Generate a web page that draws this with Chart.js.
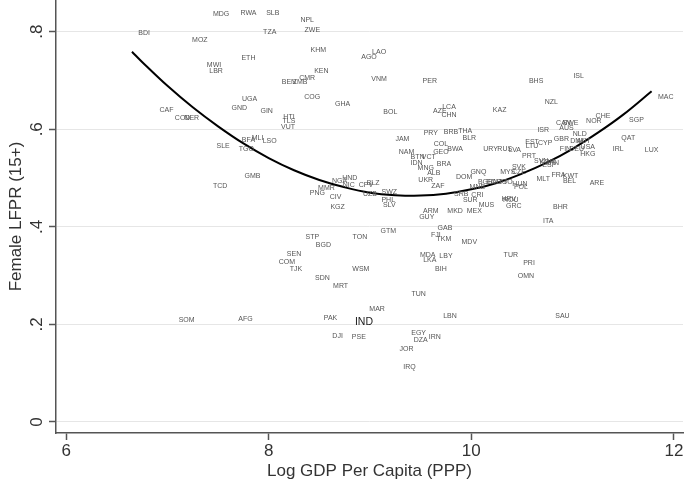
<!DOCTYPE html>
<html>
<head>
<meta charset="utf-8">
<script src="https://cdn.jsdelivr.net/npm/chart.js@4.4.1/dist/chart.umd.min.js"></script>
<style>
  html, body { margin: 0; padding: 0; background: #fff; }
  #wrap { width: 685px; height: 488px; }
</style>
</head>
<body>
<div id="wrap"><canvas id="c" width="685" height="488"></canvas></div>
<script>
// ---- data ----
const countries = ["MDG","RWA","SLB","BDI","TZA","MOZ","ETH","MWI","LBR","UGA","GND","GIN","CAF","COD","NER","SLE","TGO","BFA","MLI","LSO","TCD","GMB","NPL","ZWE","KHM","LAO","AGO","KEN","CMR","BEN","ZMB","VNM","PER","COG","GHA","BOL","HTI","TLS","VUT","JAM","BHS","NZL","LCA","AZE","CHN","KAZ","PRY","BRB","THA","BLR","ISR","CAN","SWE","AUS","GBR","EST","LTU","CYP","COL","ISL","MAC","CHE","NOR","SGP","NLD","QAT","DNK","AUT","FIN","DEU","USA","HKG","IRL","LUX","FRA","KWT","BEL","MLT","ARE","BHR","ITA","NAM","BTN","VCT","IDN","MNG","ALB","UKR","ZAF","BRA","GEO","BWA","NGA","HND","NIC","MMR","PNG","CIV","KGZ","BLZ","CPV","UZB","SWZ","PHL","SLV","GTM","ARM","GUY","STP","TON","BGD","SEN","COM","TJK","WSM","SDN","MRT","URY","RUS","LVA","PRT","SVN","SVK","KOR","ESP","JPN","MYS","CZE","DOM","GNQ","BGR","ECU","ARG","TTO","MNE","HUN","POL","SRB","CRI","SUR","MUS","MEX","MKD","HRV","ROU","GRC","GAB","FJI","TKM","MDV","MDA","LKA","LBY","BIH","TUR","PRI","OMN","SOM","AFG","TUN","MAR","PAK","IND","LBN","DJI","PSE","EGY","DZA","IRN","JOR","IRQ","SAU"];
const logGdp = [7.53,7.80,8.04,6.77,8.01,7.32,7.80,7.46,7.48,7.81,7.71,7.98,6.99,7.15,7.24,7.55,7.78,7.80,7.89,8.01,7.52,7.84,8.38,8.43,8.49,9.09,8.99,8.52,8.38,8.20,8.31,9.09,9.59,8.43,8.73,9.20,8.20,8.20,8.19,9.32,10.64,10.79,9.78,9.69,9.78,10.28,9.60,9.80,9.94,9.98,10.71,10.91,10.98,10.94,10.89,10.60,10.60,10.73,9.70,11.06,11.92,11.30,11.21,11.63,11.07,11.55,11.05,11.11,10.93,11.04,11.15,11.15,11.45,11.78,10.86,10.98,10.97,10.71,11.24,10.88,10.76,9.36,9.47,9.58,9.46,9.55,9.63,9.55,9.67,9.73,9.70,9.84,8.70,8.80,8.79,8.57,8.48,8.66,8.68,9.03,8.96,9.00,9.19,9.18,9.19,9.18,9.60,9.56,8.43,8.90,8.54,8.25,8.18,8.27,8.91,8.53,8.71,10.19,10.33,10.43,10.57,10.69,10.47,10.75,10.77,10.80,10.36,10.47,9.93,10.07,10.14,10.22,10.28,10.34,10.06,10.48,10.49,9.90,10.06,9.99,10.15,10.03,9.84,10.37,10.39,10.42,9.74,9.65,9.73,9.98,9.57,9.59,9.75,9.70,10.39,10.57,10.54,7.19,7.77,9.48,9.07,8.61,8.94,9.79,8.68,8.89,9.48,9.50,9.64,9.36,9.39,10.90];
const lfpr = [0.836,0.838,0.838,0.797,0.800,0.782,0.747,0.732,0.719,0.662,0.644,0.638,0.639,0.624,0.622,0.566,0.559,0.578,0.581,0.575,0.483,0.504,0.823,0.803,0.762,0.758,0.749,0.719,0.706,0.697,0.697,0.702,0.698,0.667,0.651,0.635,0.625,0.617,0.605,0.579,0.699,0.656,0.646,0.637,0.629,0.640,0.592,0.594,0.596,0.581,0.598,0.613,0.613,0.603,0.580,0.574,0.566,0.572,0.570,0.710,0.667,0.628,0.617,0.619,0.591,0.581,0.575,0.575,0.559,0.559,0.563,0.550,0.560,0.557,0.507,0.505,0.494,0.497,0.489,0.441,0.411,0.553,0.544,0.544,0.531,0.520,0.510,0.495,0.484,0.528,0.554,0.559,0.494,0.500,0.486,0.480,0.470,0.462,0.441,0.490,0.485,0.467,0.471,0.454,0.444,0.392,0.432,0.421,0.379,0.379,0.362,0.345,0.328,0.313,0.314,0.295,0.278,0.559,0.559,0.557,0.545,0.535,0.523,0.532,0.526,0.530,0.512,0.512,0.502,0.512,0.492,0.492,0.492,0.491,0.482,0.488,0.482,0.468,0.465,0.455,0.445,0.432,0.432,0.456,0.455,0.442,0.397,0.383,0.375,0.368,0.342,0.332,0.341,0.314,0.343,0.326,0.299,0.209,0.211,0.263,0.231,0.214,0.205,0.217,0.177,0.174,0.183,0.167,0.174,0.150,0.112,0.218];

// fitted curve
const fitX = [6.65,6.75,7.0,7.25,7.5,7.75,8.0,8.25,8.5,8.75,9.0,9.25,9.5,9.75,10.0,10.25,10.5,10.75,11.0,11.25,11.5,11.78];
const fitY = [0.759,0.738,0.689,0.645,0.606,0.571,0.541,0.516,0.496,0.481,0.470,0.465,0.464,0.468,0.477,0.490,0.509,0.532,0.560,0.593,0.630,0.678];

// ticks
const xTickVals = [6, 8, 10, 12];
const yTickVals = [0, 0.2, 0.4, 0.6, 0.8];
const yTickLabels = ["0", ".2", ".4", ".6", ".8"];

const FONT = "'Liberation Sans', Arial, Helvetica, sans-serif";

const labelPlugin = {
  id: 'countryLabels',
  afterDatasetsDraw(chart) {
    const ctx = chart.ctx;
    const meta = chart.getDatasetMeta(1);
    ctx.save();
    ctx.textAlign = 'center';
    ctx.textBaseline = 'middle';
    meta.data.forEach((el, i) => {
      const code = countries[i];
      if (code === 'IND') {
        ctx.font = "10.5px " + FONT;
        ctx.fillStyle = '#1a1a1a';
      } else {
        ctx.font = "7px " + FONT;
        ctx.fillStyle = '#555555';
      }
      ctx.fillText(code, el.x, el.y);
    });
    ctx.restore();
  },
  afterDraw(chart) {
    const ctx = chart.ctx;
    const ys = chart.scales.y;
    ctx.save();
    ctx.font = "17px " + FONT;
    ctx.fillStyle = '#333333';
    ctx.textAlign = 'center';
    ctx.textBaseline = 'middle';
    yTickVals.forEach((v, i) => {
      const py = ys.getPixelForValue(v);
      ctx.save();
      ctx.translate(37, py);
      ctx.rotate(-Math.PI / 2);
      ctx.fillText(yTickLabels[i], 0, 0);
      ctx.restore();
    });
    ctx.restore();
  }
};

const ctx = document.getElementById('c').getContext('2d');
new Chart(ctx, {
  type: 'scatter',
  data: {
    datasets: [
      {
        type: 'line',
        data: fitX.map((x, i) => ({ x: x, y: fitY[i] })),
        borderColor: '#000000',
        borderWidth: 2,
        pointRadius: 0,
        tension: 0.4,
        fill: false
      },
      {
        data: logGdp.map((x, i) => ({ x: x, y: lfpr[i] })),
        pointRadius: 0,
        pointHoverRadius: 0
      }
    ]
  },
  options: {
    responsive: false,
    animation: false,
    devicePixelRatio: 1,
    layout: { padding: { top: 0, right: 2, left: 0, bottom: 0 } },
    plugins: { legend: { display: false }, tooltip: { enabled: false } },
    scales: {
      x: {
        type: 'linear',
        min: 5.9,
        max: 12.09,
        afterBuildTicks: (axis) => { axis.ticks = xTickVals.map(v => ({ value: v })); },
        afterFit: (axis) => { axis.height = 55; },
        grid: { drawOnChartArea: false, tickLength: 7, tickColor: '#555555', tickWidth: 1.5 },
        border: { color: '#555555', width: 1.5 },
        ticks: { font: { size: 17, family: FONT }, color: '#333333', padding: 1,
                 callback: (v) => String(v) },
        title: { display: true, text: 'Log GDP Per Capita (PPP)', font: { size: 17, family: FONT },
                 color: '#333333', padding: { top: 0, bottom: 6 } }
      },
      y: {
        type: 'linear',
        min: -0.0226,
        max: 0.865,
        afterBuildTicks: (axis) => { axis.ticks = yTickVals.map(v => ({ value: v })); },
        afterFit: (axis) => { axis.width = 56; },
        grid: { color: '#e6e6e6', lineWidth: 1, tickLength: 7, tickColor: '#555555', tickWidth: 1.5 },
        border: { color: '#555555', width: 1.5 },
        ticks: { display: false },
        title: { display: true, text: 'Female LFPR (15+)', font: { size: 17, family: FONT },
                 color: '#333333', padding: { top: 6, bottom: 0 } }
      }
    }
  },
  plugins: [labelPlugin]
});
</script>
</body>
</html>
